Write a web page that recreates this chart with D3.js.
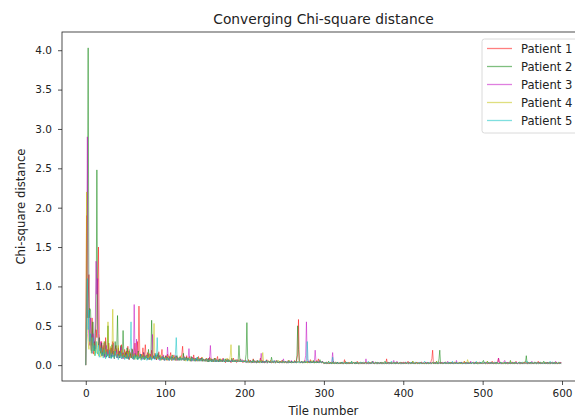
<!DOCTYPE html>
<html>
<head>
<meta charset="utf-8">
<style>
  body { margin: 0; background: #fff; }
  svg { font-family: 'DejaVu Sans', sans-serif; }
</style>
</head>
<body>
<svg width="575" height="417"></svg>
<script src="https://d3js.org/d3.v7.min.js"></script>
<script>
// chi-square distance per tile, in hundredths (tile 0 .. 599)
let patient1 = [
0,190,60,85,115,40,30,18,60,25,14,30,20,45,35,95,150,40,22,15,30,12,25,18,10,35,14,20,12,28,9,16,22,11,30,14,8,19,25,10,13,22,9,17,12,26,10,15,8,20,
11,18,9,24,13,7,16,10,21,12,9,15,28,11,14,30,12,75,18,9,14,10,22,8,13,26,11,9,16,12,7,14,10,19,9,12,8,15,11,7,13,9,17,8,10,12,20,7,11,9,
8,12,6,14,9,7,11,16,6,10,8,13,7,9,12,6,10,8,7,11,9,14,24,8,6,10,7,12,8,6,9,11,7,5,10,8,13,6,9,7,5,8,11,6,9,7,10,5,8,6,
7,5,9,6,8,4,10,6,5,8,7,4,9,6,5,7,11,4,6,8,5,7,4,9,6,5,3,7,5,8,4,6,5,3,7,4,9,5,6,4,3,7,5,4,6,8,4,5,3,6,
4,6,3,5,4,7,3,5,6,3,4,8,3,5,4,3,6,4,3,5,9,3,4,6,3,5,3,4,7,3,4,5,3,6,3,4,3,5,4,3,6,3,4,3,5,3,4,6,3,4,
3,5,3,4,3,6,3,4,3,5,3,4,3,6,4,3,8,14,58,6,4,3,5,3,4,3,6,3,4,3,5,3,4,7,3,4,3,5,3,4,3,6,3,8,4,3,5,3,4,3,
2,3,2,4,2,3,2,2,4,2,3,2,5,2,2,3,2,4,2,2,3,2,4,2,2,3,7,2,3,2,2,4,2,2,3,2,2,4,2,3,2,2,5,2,2,3,2,2,4,2,
3,2,4,2,3,2,3,4,2,3,2,4,2,3,2,3,2,4,2,3,2,3,2,4,2,3,2,3,2,8,2,3,2,3,2,4,2,3,2,3,2,4,2,3,2,3,2,4,2,3,
4,2,3,2,2,3,5,2,3,2,2,4,2,3,3,2,2,4,2,3,2,2,3,4,2,2,3,2,4,2,3,2,2,3,2,5,8,19,2,2,4,2,3,2,2,3,4,2,2,3,
2,2,3,4,2,3,2,2,3,2,4,2,3,2,2,4,3,2,2,3,2,4,2,2,3,2,3,5,2,2,3,2,4,2,3,2,2,3,4,2,2,3,2,4,2,2,3,2,3,2,
2,3,2,4,2,3,2,2,4,2,3,2,5,2,2,3,2,4,2,4,9,2,4,2,2,3,2,2,3,2,2,4,2,2,3,2,2,4,2,3,2,2,5,2,2,3,2,2,4,2,
3,2,4,2,3,2,3,4,2,3,2,4,2,3,2,3,2,4,2,3,5,3,2,4,2,3,2,3,2,4,2,3,2,3,2,4,2,3,2,3,2,4,2,3,2,3,2,4,2,3
];
let patient2 = [
0,80,150,403,60,72,70,40,25,55,30,18,40,60,248,45,25,35,20,15,28,14,22,12,30,18,10,24,50,15,12,20,9,26,14,18,11,30,16,22,63,12,18,9,25,14,11,44,13,10,
16,9,22,12,8,18,11,14,9,20,12,8,15,10,13,7,18,9,11,14,8,12,10,16,7,11,9,13,8,20,10,7,12,57,14,9,11,8,13,7,10,15,8,12,9,7,11,8,10,6,
9,12,7,10,8,6,11,8,9,13,7,8,10,6,9,12,7,8,6,10,7,9,8,15,6,8,7,10,6,9,7,8,5,11,7,6,9,7,5,8,6,10,7,5,8,6,9,5,7,6,
5,8,6,7,4,9,5,6,8,4,7,5,6,9,4,6,5,7,4,8,5,6,4,7,5,4,8,5,6,4,7,5,4,6,9,4,5,6,4,7,5,4,6,25,8,4,5,6,4,5,
4,6,14,54,8,5,4,6,4,5,3,7,4,5,4,3,6,4,5,3,4,6,3,5,4,3,5,4,6,3,4,5,3,4,10,5,3,4,5,3,4,6,3,4,3,5,4,3,6,4,
3,4,5,3,4,3,6,4,3,5,3,4,3,5,4,3,12,50,20,5,4,3,5,3,4,3,5,3,4,3,5,4,3,5,3,4,3,6,3,4,3,5,3,4,3,7,4,3,5,3,
4,2,3,2,2,3,5,2,3,2,2,4,2,3,3,2,2,4,2,3,2,2,3,4,2,2,3,2,4,2,3,2,2,3,2,5,2,3,2,2,4,2,3,2,2,3,4,2,2,3,
2,2,3,4,2,3,2,2,3,2,4,5,3,2,2,4,3,2,2,3,2,4,2,2,3,2,3,5,2,2,3,2,4,2,3,2,2,3,4,2,2,3,2,4,2,2,3,2,3,2,
2,3,2,4,2,3,2,2,4,2,3,2,5,2,2,3,2,4,2,2,3,2,4,2,2,3,2,2,3,2,2,4,2,2,3,2,2,4,2,3,2,2,5,2,2,8,19,2,4,2,
3,2,4,2,3,2,3,4,2,3,2,4,2,3,2,3,2,4,2,3,2,3,2,4,2,3,2,3,2,4,2,3,2,3,2,4,2,3,2,3,2,4,2,3,2,3,2,4,2,3,
4,6,3,2,2,3,5,2,3,2,2,4,2,3,3,2,2,4,2,3,2,2,3,4,2,2,3,2,4,2,3,2,2,3,2,6,2,3,2,2,4,2,3,2,2,3,4,2,2,3,
2,2,3,4,4,12,2,2,3,2,4,2,3,2,2,4,3,2,2,3,2,4,2,2,3,2,3,5,2,2,3,2,4,2,3,2,2,3,4,2,2,3,2,4,2,2,3,2,3,2
];
let patient3 = [
0,120,290,50,35,25,60,20,15,40,22,30,55,132,90,110,40,25,18,30,12,22,15,28,10,18,25,12,20,14,9,22,16,11,18,28,10,15,12,20,9,14,18,10,23,12,8,16,11,14,
9,15,12,8,18,10,13,9,16,11,7,77,14,10,33,12,8,15,9,11,13,7,10,16,8,12,9,11,7,14,8,10,12,7,39,9,11,8,13,7,10,9,12,6,8,11,7,9,13,6,
8,10,7,23,9,6,11,8,7,10,6,9,8,12,6,7,9,6,10,7,8,6,9,7,11,6,8,7,6,9,21,7,6,8,5,10,6,7,5,9,6,8,5,7,6,9,5,8,6,7,
5,7,6,4,8,5,9,25,6,4,7,5,6,4,8,5,6,4,7,5,4,6,5,8,4,5,6,4,7,5,4,6,5,4,7,5,4,6,4,5,7,4,5,6,4,5,4,7,5,4,
4,5,6,4,3,5,4,6,3,4,5,3,4,6,3,5,4,3,5,4,6,15,5,3,4,5,3,4,6,3,4,5,3,4,3,5,4,3,6,3,4,5,3,4,3,5,4,3,4,8,
4,3,5,3,4,3,5,3,4,6,3,4,3,5,3,4,3,5,4,3,4,3,5,3,4,3,6,12,55,8,4,3,5,3,4,3,5,3,4,19,5,3,4,3,5,3,4,3,5,3,
2,2,3,4,2,3,2,2,3,2,4,16,3,2,2,4,3,2,2,3,2,4,2,2,3,2,3,5,2,2,3,2,4,2,3,2,2,3,4,2,2,3,2,4,2,2,3,2,3,2,
2,3,2,8,2,3,2,2,4,2,3,2,5,2,2,3,2,4,2,2,3,2,4,2,2,3,2,2,3,2,2,4,2,2,3,2,2,4,6,3,2,2,5,2,2,3,2,2,4,2,
3,2,4,2,3,2,3,4,2,3,2,4,2,3,2,3,2,4,2,3,2,3,2,4,2,3,2,3,2,4,2,3,2,3,2,4,2,3,2,3,2,4,2,3,2,3,2,4,2,3,
4,2,3,2,2,3,5,2,3,2,2,4,2,3,3,2,2,6,2,3,2,2,3,4,2,2,3,2,4,2,3,2,2,3,2,5,2,3,2,2,4,2,3,2,2,3,4,2,2,3,
2,2,3,4,2,3,2,2,3,2,4,2,3,2,2,4,3,2,2,3,9,4,2,2,3,2,3,5,6,2,3,2,4,2,3,2,2,3,4,2,2,3,2,4,2,2,3,2,3,2,
2,3,2,4,2,3,2,2,4,2,3,2,5,2,2,3,2,4,2,2,3,2,4,2,2,3,2,2,3,2,2,4,2,2,3,2,2,4,2,3,2,2,5,2,2,3,2,2,4,2
];
let patient4 = [
0,220,40,30,20,45,25,15,35,18,28,12,20,15,30,22,12,18,25,10,16,22,11,30,14,20,12,18,55,15,10,24,13,18,71,12,9,20,14,11,17,25,10,15,12,19,9,14,11,16,
10,13,8,17,11,20,9,12,15,8,11,14,7,10,13,9,16,8,11,7,12,9,14,8,10,7,13,9,11,8,15,7,10,12,8,20,53,9,11,8,12,7,10,9,13,6,9,11,7,8,
10,7,9,6,12,8,7,10,6,9,8,11,6,7,10,8,6,9,7,12,6,8,7,10,6,9,5,8,7,6,10,5,8,6,7,9,5,8,6,7,5,9,6,7,5,8,6,10,5,7,
6,5,8,4,7,5,6,9,4,5,7,4,6,8,5,4,7,5,6,4,8,5,4,6,5,7,4,5,9,4,6,5,12,26,6,4,5,7,4,5,6,4,5,7,4,5,6,4,5,4,
6,4,5,3,4,6,3,5,4,3,5,4,6,3,4,5,3,4,5,3,6,4,8,16,5,3,4,5,3,4,6,3,4,5,3,4,3,5,4,3,5,3,4,6,3,4,3,5,4,3,
5,3,4,3,3,4,6,3,4,3,3,5,3,4,4,3,3,5,3,4,3,3,4,5,3,3,4,3,5,3,4,3,3,4,3,6,3,4,3,3,5,3,4,3,3,4,5,3,3,4,
2,2,3,4,2,3,2,2,3,2,4,2,3,2,2,4,3,2,2,3,2,4,2,2,3,2,3,5,2,2,3,2,4,2,3,2,2,3,4,2,2,3,2,4,2,2,3,2,3,2,
3,2,4,2,3,2,3,4,2,3,2,4,2,3,2,3,2,4,2,3,2,3,2,4,2,3,2,3,2,4,2,3,2,3,2,4,2,3,2,3,2,4,2,3,2,3,2,4,2,3,
2,3,2,4,2,3,2,2,4,2,3,2,5,2,2,3,2,4,2,2,3,2,4,2,2,3,2,2,3,2,2,4,2,2,3,2,2,4,2,3,2,2,5,2,2,3,2,2,4,2,
2,2,3,4,2,3,2,2,3,2,4,2,3,2,2,4,3,2,2,3,2,4,2,2,3,2,3,5,2,2,3,7,4,2,3,2,2,3,4,2,2,3,2,4,2,2,3,2,3,2,
4,2,3,2,2,3,5,2,3,2,2,4,2,3,3,2,2,4,2,3,2,2,3,4,2,2,3,2,4,2,3,2,2,3,2,5,2,3,2,2,4,2,3,2,2,3,4,2,2,3,
3,2,4,2,3,2,3,4,2,3,2,4,2,3,2,3,2,4,2,3,2,3,2,4,2,3,2,3,2,4,2,3,2,3,2,4,2,3,2,3,2,4,2,3,2,3,2,4,2,3
];
let patient5 = [
0,60,110,45,70,30,40,20,15,35,18,25,12,30,20,14,25,10,18,22,12,16,9,20,13,8,17,11,14,9,19,12,8,15,10,13,8,18,11,9,14,7,12,10,16,8,11,9,13,7,
10,8,14,9,7,12,20,55,10,8,11,7,13,9,8,12,7,10,9,14,6,9,11,7,10,8,12,6,9,7,10,8,11,6,9,8,12,7,15,10,35,8,7,10,6,9,8,11,7,9,
6,8,10,7,9,6,8,7,11,6,8,9,7,15,35,8,6,9,7,10,6,8,7,9,6,10,7,8,5,9,6,7,8,5,9,6,7,5,8,6,10,5,7,6,8,5,7,9,5,6,
7,5,6,8,4,6,5,7,4,6,5,8,4,5,7,4,6,5,4,7,5,6,4,5,8,4,5,6,4,7,5,4,6,5,4,7,4,5,6,4,5,4,6,5,4,7,4,5,4,6,
4,5,3,6,4,3,5,4,3,5,4,6,3,4,5,3,4,3,6,4,3,5,4,3,5,3,4,6,3,4,5,3,4,3,5,4,3,6,3,4,5,3,4,3,5,4,3,4,3,5,
3,4,5,3,4,3,5,3,4,3,5,3,4,3,5,3,4,3,5,3,4,3,5,3,4,3,5,3,4,30,8,3,4,3,5,3,4,3,5,3,4,3,5,3,4,3,5,3,4,3,
3,2,4,2,3,2,3,4,2,3,2,10,2,3,2,3,2,4,2,3,2,3,2,4,2,3,2,3,2,4,2,3,2,3,2,4,2,3,2,3,2,4,2,3,2,3,2,4,2,3,
4,2,3,2,2,3,5,2,3,2,2,4,2,3,3,2,2,4,2,3,2,2,3,4,2,2,3,2,4,2,3,2,2,3,2,5,2,3,2,2,4,2,3,2,2,3,4,2,2,3,
2,2,3,4,2,3,2,2,3,2,4,2,3,2,2,4,3,2,2,3,2,4,2,2,3,2,3,5,2,2,3,2,4,2,3,2,2,3,4,2,2,3,2,4,2,2,3,2,3,2,
2,3,2,4,2,3,2,2,4,2,3,2,5,2,2,3,2,4,2,2,3,2,4,2,2,3,2,2,3,2,2,4,2,2,3,2,2,4,2,3,2,2,5,2,2,3,2,2,4,2,
3,2,4,2,3,2,3,4,2,3,2,4,2,3,2,3,2,4,2,3,2,3,2,4,2,3,2,3,2,4,2,3,2,3,2,4,2,3,2,3,2,4,2,3,2,3,2,4,2,3,
4,2,3,2,2,3,5,2,3,2,2,4,2,3,3,2,2,4,2,3,2,2,3,4,2,2,3,2,4,2,3,2,2,3,2,5,2,3,2,2,4,2,3,2,2,3,4,2,2,3
];

let seriesNames = ["Patient 1", "Patient 2", "Patient 3", "Patient 4", "Patient 5"];
let seriesColors = ["#ff0000", "#008000", "#bf00bf", "#bfbf00", "#00bfbf"];
let xTicks = [0, 100, 200, 300, 400, 500, 600];
let yTicks = [0, 0.5, 1, 1.5, 2, 2.5, 3, 3.5, 4];

let series = [patient1, patient2, patient3, patient4, patient5].map(function (vals, i) {
    return { name: seriesNames[i], color: seriesColors[i], values: vals.map(v => v / 100) }
})

let svg = d3.select("svg")

let plotLeft = 62, plotRight = 585, plotTop = 32, plotBottom = 381

// matplotlib style 5% padding around the data
let n = d3.max(series, s => s.values.length) - 1
let yMax = d3.max(series, s => d3.max(s.values))
let yMin = d3.min(series, s => d3.min(s.values))
let x = d3.scaleLinear().domain([-0.05 * n, n * 1.05]).range([plotLeft, plotRight])
let y = d3.scaleLinear().domain([yMin - 0.05 * (yMax - yMin), yMax + 0.05 * (yMax - yMin)]).range([plotBottom, plotTop])

svg.append("clipPath").attr("id", "plot-clip")
    .append("rect")
    .attr("x", plotLeft).attr("y", plotTop)
    .attr("width", plotRight - plotLeft).attr("height", plotBottom - plotTop)

let line = d3.line()
    .x((d, i) => x(i))
    .y(d => y(d))

svg.append("g")
    .attr("clip-path", "url(#plot-clip)")
    .selectAll("path")
    .data(series)
    .join("path")
    .attr("d", d => line(d.values))
    .style("fill", "none")
    .style("stroke", d => d.color)
    .style("stroke-width", 1)
    .style("stroke-opacity", 0.5)

// axes
let xAxis = svg.append("g")
    .attr("transform", `translate(0,${plotBottom})`)
    .call(d3.axisBottom(x).tickValues(xTicks).tickFormat(d3.format("d")).tickSize(4).tickPadding(4.5))
xAxis.select(".domain").remove()

let yAxis = svg.append("g")
    .attr("transform", `translate(${plotLeft},0)`)
    .call(d3.axisLeft(y).tickValues(yTicks).tickFormat(d3.format(".1f")).tickSize(4).tickPadding(6))
yAxis.select(".domain").remove()

svg.selectAll(".tick text")
    .style("font-family", "'DejaVu Sans', sans-serif")
    .style("font-size", "10.5px")
    .style("fill", "#222")
svg.selectAll(".tick line").style("stroke", "#222").style("stroke-width", 0.8)

svg.append("rect")
    .attr("x", plotLeft).attr("y", plotTop)
    .attr("width", plotRight - plotLeft).attr("height", plotBottom - plotTop)
    .style("fill", "none")
    .style("stroke", "#222")
    .style("stroke-width", 0.8)

// titles
svg.append("text")
    .attr("x", (plotLeft + plotRight) / 2).attr("y", 24)
    .attr("text-anchor", "middle")
    .style("font-size", "13.8px")
    .style("fill", "#222")
    .text("Converging Chi-square distance")

svg.append("text")
    .attr("x", (plotLeft + plotRight) / 2).attr("y", 415)
    .attr("text-anchor", "middle")
    .style("font-size", "11.7px")
    .style("fill", "#222")
    .text("Tile number")

svg.append("text")
    .attr("transform", `translate(25,${(plotTop + plotBottom) / 2}) rotate(-90)`)
    .attr("text-anchor", "middle")
    .style("font-size", "11.7px")
    .style("fill", "#222")
    .text("Chi-square distance")

// legend
let legend = svg.append("g").attr("transform", "translate(482,39)")
legend.append("rect")
    .attr("width", 120).attr("height", 94).attr("rx", 2.5)
    .style("fill", "white").style("fill-opacity", 0.8)
    .style("stroke", "#d0d0d0").style("stroke-width", 0.8)

let items = legend.selectAll(".item")
    .data(series)
    .join("g")
    .attr("class", "item")
    .attr("transform", (d, i) => `translate(0,${9.5 + i * 18})`)

items.append("line")
    .attr("x1", 5).attr("x2", 30)
    .style("stroke", d => d.color)
    .style("stroke-width", 1.3)
    .style("stroke-opacity", 0.5)

items.append("text")
    .attr("x", 39).attr("dy", "0.35em")
    .style("font-size", "11.6px")
    .style("fill", "#222")
    .text(d => d.name)
</script>
</body>
</html>
